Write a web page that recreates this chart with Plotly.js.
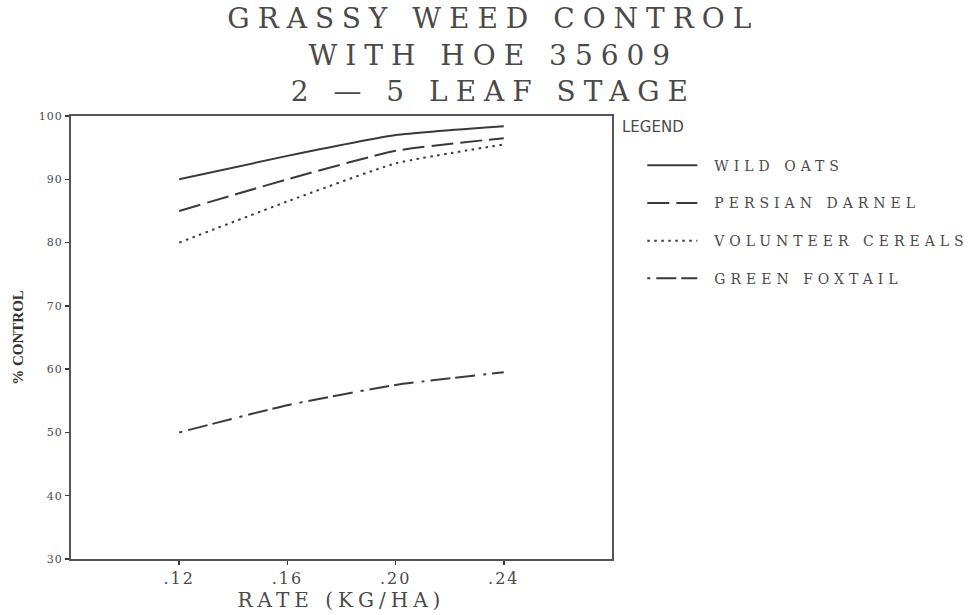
<!DOCTYPE html>
<html>
<head>
<meta charset="utf-8">
<script src="https://cdn.plot.ly/plotly-3.0.1.min.js"></script>
<style>
  html, body { margin: 0; padding: 0; background: #fff; }
  #chart { width: 975px; height: 615px; }
  .gtitle { letter-spacing: 8px; }
  .xtitle { letter-spacing: 5px; }
  .xtick text { letter-spacing: 2px; }
  .ytick text { letter-spacing: 1px; }
  .legendtext { letter-spacing: 5px; transform: translateX(12px); }
</style>
</head>
<body>
<div id="chart"></div>
<script>
// ---- data ----
const rates = [0.12, 0.16, 0.20, 0.24];
const wildOats = [90, 93.7, 97, 98.4];
const persianDarnel = [85, 90, 94.5, 96.5];
const volunteerCereals = [80, 86.5, 92.5, 95.5];
const greenFoxtail = [50, 54.3, 57.5, 59.5];

const seriesNames = ['WILD OATS', 'PERSIAN DARNEL', 'VOLUNTEER CEREALS', 'GREEN FOXTAIL'];
const xTickVals = [0.12, 0.16, 0.20, 0.24];
const xTickText = ['.12', '.16', '.20', '.24'];
const yTickVals = [30, 40, 50, 60, 70, 80, 90, 100];
const yTickText = ['30', '40', '50', '60', '70', '80', '90', '100'];

const ink = '#3a3a3a';
const serif = 'DejaVu Serif, serif';

const seriesValues = [wildOats, persianDarnel, volunteerCereals, greenFoxtail];
const dashes = ['solid', '22px,7px', '2.5px,4.5px', '3px,6px,20px,5px,20px,8px'];

const traces = seriesValues.map((vals, i) => ({
  type: 'scatter',
  mode: 'lines',
  x: rates,
  y: vals,
  name: seriesNames[i],
  legendgroup: 'g' + i,
  line: { color: ink, width: 2, dash: dashes[i], shape: 'spline', smoothing: 0.5 },
  hoverinfo: 'x+y+name'
}));

const layout = {
  width: 975,
  height: 615,
  margin: { l: 71, r: 356, t: 116, b: 56 },
  paper_bgcolor: '#fff',
  plot_bgcolor: '#fff',
  showlegend: true,
  title: {
    text: 'GRASSY WEED CONTROL<br>WITH HOE 35609<br>2 \u2014 5 LEAF STAGE',
    font: { family: serif, size: 28, color: '#4a4a4a' },
    x: 0.506, xref: 'container', xanchor: 'center',
    y: 0.954, yref: 'container', yanchor: 'top'
  },
  xaxis: {
    range: [0.08, 0.28],
    tickvals: xTickVals,
    ticktext: xTickText,
    ticks: 'outside', ticklen: 4, tickwidth: 1.5, tickcolor: ink,
    showgrid: false, zeroline: false,
    showline: true, mirror: true, linecolor: '#555', linewidth: 2,
    tickfont: { family: serif, size: 16, color: '#4a4a4a' },
    title: { text: 'RATE (KG/HA)', font: { family: serif, size: 20, color: '#4a4a4a' }, standoff: 6 },
    fixedrange: true
  },
  yaxis: {
    range: [30, 100],
    tickvals: yTickVals,
    ticktext: yTickText,
    ticks: 'outside', ticklen: 4, tickwidth: 1.5, tickcolor: ink,
    showgrid: false, zeroline: false,
    showline: true, mirror: true, linecolor: '#555', linewidth: 2,
    tickfont: { family: serif, size: 11, color: '#4a4a4a' },
    title: { text: '% CONTROL', font: { family: 'Liberation Serif, serif', size: 15, color: '#333', weight: 'bold' }, standoff: 12 },
    fixedrange: true
  },
  yaxis2: {
    overlaying: 'y', anchor: 'x', side: 'left',
    range: [30, 100],
    tickvals: yTickVals,
    ticks: 'inside', ticklen: 5, tickwidth: 1.5, tickcolor: ink,
    showticklabels: false, showgrid: false, zeroline: false, showline: false,
    fixedrange: true
  },
  legend: {
    x: 1.056, xanchor: 'left',
    y: 0.924, yanchor: 'top',
    traceorder: 'grouped',
    tracegroupgap: 16.5,
    itemwidth: 50,
    font: { family: serif, size: 14, color: '#4a4a4a' },
    bgcolor: 'rgba(0,0,0,0)'
  },
  annotations: [{
    text: 'LEGEND',
    xref: 'paper', yref: 'paper',
    x: (627 - 71) / 548, xanchor: 'left',
    y: 1 - (127 - 116) / 443, yanchor: 'middle',
    showarrow: false,
    font: { family: 'DejaVu Sans, sans-serif', size: 15, color: '#4a4a4a' }
  }]
};

Plotly.newPlot('chart', traces, layout, { displayModeBar: false, staticPlot: true });
</script>
</body>
</html>
